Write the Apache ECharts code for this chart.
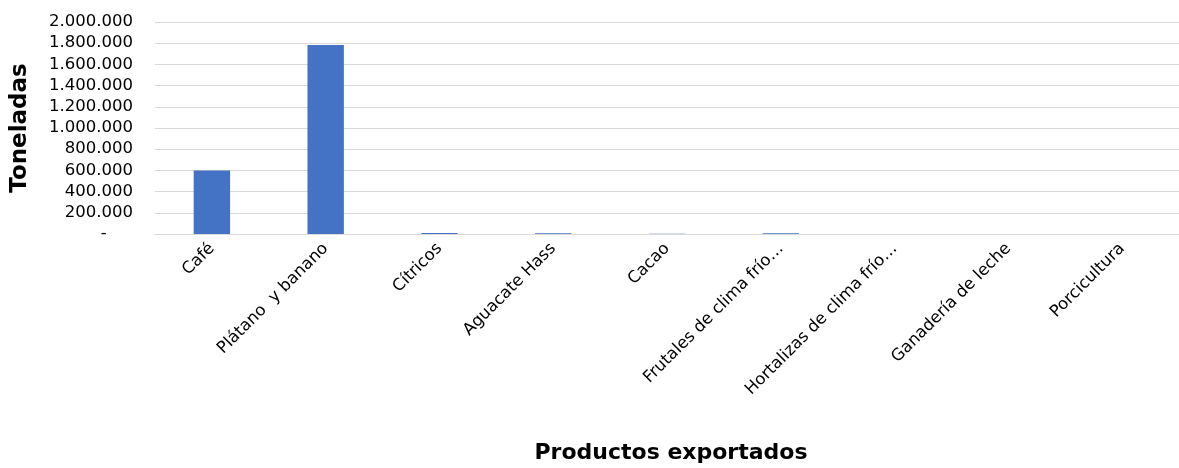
<!DOCTYPE html>
<html><head><meta charset="utf-8">
<script src="https://cdn.jsdelivr.net/npm/echarts@6/dist/echarts.min.js"></script>
<style>html,body{margin:0;padding:0;background:#fff}#c{width:1179px;height:468px}</style>
</head><body><div id="c"></div>
<script>
const categories = ['Café','Plátano  y banano','Cítricos','Aguacate Hass','Cacao','Frutales de clima frío…','Hortalizas de clima frío…','Ganadería de leche','Porcicultura'];
const toneladas = [598000, 1783000, 9000, 6000, 3000, 8000, 600, 200, 100];
const yTicks = [0, 200000, 400000, 600000, 800000, 1000000, 1200000, 1400000, 1600000, 1800000, 2000000];

const font = 'DejaVu Sans';
const chart = echarts.init(document.getElementById('c'));
chart.setOption({
  animation: false,
  grid: {left: 155, right: 0, top: 22, bottom: 234, containLabel: false, outerBoundsMode: 'none'},
  xAxis: {
    type: 'category', data: categories,
    axisLine: {lineStyle: {color: '#d9d9d9', width: 1}},
    axisTick: {show: false},
    axisLabel: {rotate: 45, fontFamily: font, fontSize: 16.5, color: '#000', margin: 12, interval: 0},
    name: 'Productos exportados', nameLocation: 'middle', nameGap: 208,
    nameTextStyle: {fontFamily: font, fontSize: 22, fontWeight: 'bold', color: '#000', padding: [0, 0, 0, 8]}
  },
  yAxis: {
    type: 'value', min: yTicks[0], max: yTicks[yTicks.length-1], interval: yTicks[1]-yTicks[0],
    axisLine: {show: false}, axisTick: {show: false},
    splitLine: {lineStyle: {color: '#d9d9d9', width: 1}},
    axisLabel: {fontFamily: font, fontSize: 16.5, color: '#000', margin: 22,
      formatter: v => v === 0 ? '-     ' : v.toLocaleString('de-DE')},
    name: 'Toneladas', nameLocation: 'middle', nameRotate: 90, nameGap: 123,
    nameTextStyle: {fontFamily: font, fontSize: 23, fontWeight: 'bold', color: '#000'}
  },
  series: [{
    type: 'bar', data: toneladas, barWidth: '32%',
    itemStyle: {color: '#4472C4'}
  }]
});
</script></body></html>
